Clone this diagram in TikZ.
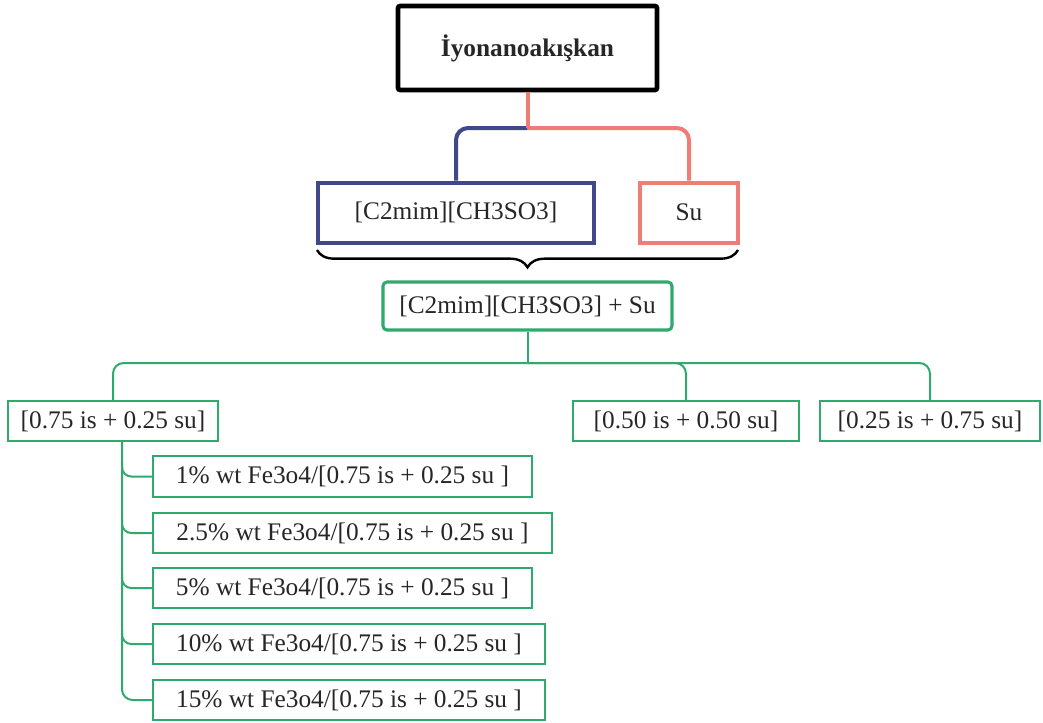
\documentclass[tikz,border=0pt]{standalone}
\usepackage{fontspec}
\setmainfont{Liberation Serif}
\usetikzlibrary{calc,decorations.pathreplacing}

\definecolor{inkText}{HTML}{262626}
\definecolor{navyLine}{HTML}{3F4888}
\definecolor{salmonLine}{HTML}{F07C78}
\definecolor{mintLine}{HTML}{2EAA6C}

\tikzset{
  box/.style={draw, rectangle, inner sep=0pt, text=inkText,
    font=\fontsize{19}{22}\selectfont},
  titlebox/.style={box, draw=black, line width=3.4pt, rounded corners=1.5pt,
    font=\fontsize{19}{22}\selectfont\bfseries},
  ionbox/.style={box, draw=navyLine, line width=3pt},
  waterbox/.style={box, draw=salmonLine, line width=3pt},
  mixbox/.style={box, draw=mintLine, line width=2.3pt, rounded corners=3pt},
  ratiobox/.style={box, draw=mintLine, line width=1.5pt},
  wire/.style={line width=1.5pt, draw=mintLine},
}

\begin{document}
\begin{tikzpicture}[x=0.75pt, y=-0.75pt]
  \useasboundingbox (0,0) rectangle (1043,722);

  % top level
  \node[titlebox, minimum width=259*0.75pt, minimum height=84*0.75pt]
    (title) at (527.5,48) {İyonanoakışkan};

  % components
  \node[ionbox, minimum width=276*0.75pt, minimum height=60*0.75pt]
    (ion) at (456,212.5) {[C2mim][CH3SO3]};
  \node[waterbox, minimum width=98*0.75pt, minimum height=60*0.75pt]
    (su) at (689,212.5) {Su};

  % mixture
  \node[mixbox, minimum width=289*0.75pt, minimum height=48*0.75pt]
    (mix) at (527.5,306) {[C2mim][CH3SO3] + Su};

  % mixing ratios
  \node[ratiobox, minimum width=210*0.75pt, minimum height=40*0.75pt]
    (r1) at (113,421) {[0.75 is + 0.25 su]};
  \node[ratiobox, minimum width=226*0.75pt, minimum height=40*0.75pt]
    (r2) at (686,421) {[0.50 is + 0.50 su]};
  \node[ratiobox, minimum width=220*0.75pt, minimum height=40*0.75pt]
    (r3) at (930,421) {[0.25 is + 0.75 su]};

  % nanofluids
  \node[ratiobox, minimum width=379*0.75pt, minimum height=41*0.75pt]
    (n1) at (342.5,476.5) {1\% wt Fe3o4/[0.75 is + 0.25 su ]};
  \node[ratiobox, minimum width=399*0.75pt, minimum height=40*0.75pt]
    (n2) at (352.5,533) {2.5\% wt Fe3o4/[0.75 is + 0.25 su ]};
  \node[ratiobox, minimum width=379*0.75pt, minimum height=40*0.75pt]
    (n3) at (342.5,588) {5\% wt Fe3o4/[0.75 is + 0.25 su ]};
  \node[ratiobox, minimum width=392*0.75pt, minimum height=40*0.75pt]
    (n4) at (349,644) {10\% wt Fe3o4/[0.75 is + 0.25 su ]};
  \node[ratiobox, minimum width=392*0.75pt, minimum height=40*0.75pt]
    (n5) at (349,700) {15\% wt Fe3o4/[0.75 is + 0.25 su ]};

  % title -> components
  \coordinate (split) at (527.5,128);
  \draw[navyLine, line width=3pt, rounded corners=9pt]
    (split) -| (ion.north);
  \draw[salmonLine, line width=3pt] (title.south) -- (split);
  \draw[salmonLine, line width=3pt, rounded corners=9pt]
    (split) -| (su.north);

  % brace under both components
  \coordinate (braceR) at (738,250);
  \coordinate (braceL) at (317,250);
  \draw[line width=1.8pt, decorate,
        decoration={brace, amplitude=13pt, aspect=0.5}]
    (braceR) -- (braceL);

  % mixture -> ratios
  \coordinate (fan) at (527.5,363);
  \draw[wire] (mix.south) -- (fan);
  \draw[wire, rounded corners=8pt] (fan) -| (r1.north);
  \draw[wire, rounded corners=8pt] (fan) -| (r2.north);
  \draw[wire, rounded corners=8pt] (fan) -| (r3.north);

  % ratio -> nanofluids
  \coordinate (trunk) at ($(r1.south)+(9,0)$);
  \draw[wire, rounded corners=8pt] (trunk) |- (n5.west);
  \foreach \n in {n1,n2,n3,n4}
    \draw[wire, rounded corners=7pt] ($(trunk |- \n.west)+(0,-14)$) |- (\n.west);
\end{tikzpicture}
\end{document}
